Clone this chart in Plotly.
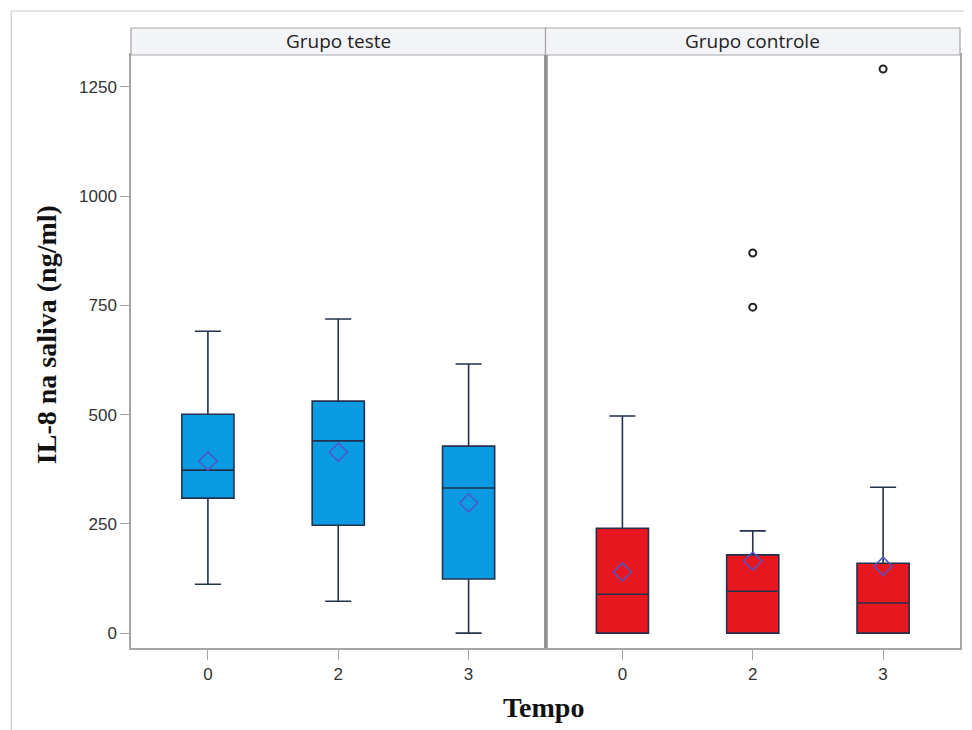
import plotly.graph_objects as go
from plotly.subplots import make_subplots

# ---- data ----
tempo_labels = ["0", "2", "3"]
groups = ["Grupo teste", "Grupo controle"]

teste_lower = [112, 73, 0]
teste_q1 = [309, 247, 124]
teste_median = [373, 440, 332]
teste_q3 = [501, 531, 428]
teste_upper = [691, 719, 616]
teste_mean = [394, 414, 298]

controle_lower = [0, 0, 0]
controle_q1 = [0, 0, 0]
controle_median = [89, 96, 69]
controle_q3 = [240, 179, 160]
controle_upper = [497, 234, 334]
controle_mean = [140, 165, 153]

controle_outlier_tempo = [1, 1, 2]       # category index of each outlier
controle_outlier_values = [870, 746, 1291]

y_ticks = [0, 250, 500, 750, 1000, 1250]
positions = [0, 1, 2]

fig = make_subplots(rows=1, cols=2, shared_yaxes=True, horizontal_spacing=0)

line_col = "#22324d"
panels = [
    (teste_lower, teste_q1, teste_median, teste_q3, teste_upper, teste_mean, "#0a9be2"),
    (controle_lower, controle_q1, controle_median, controle_q3, controle_upper, controle_mean, "#e8161f"),
]

for i, (lo, q1, med, q3, up, mn, fill) in enumerate(panels):
    col = i + 1
    fig.add_trace(go.Box(
        x=positions, q1=q1, median=med, q3=q3, lowerfence=lo, upperfence=up,
        fillcolor=fill, line=dict(color=line_col, width=1.6),
        width=0.4, whiskerwidth=0.5, boxpoints=False, showlegend=False,
        hoverinfo="skip",
    ), row=1, col=col)
    fig.add_trace(go.Scatter(
        x=positions, y=mn, mode="markers",
        marker=dict(symbol="diamond-open", size=14, color="#4f55c4",
                    line=dict(width=1.5, color="#4f55c4")),
        showlegend=False, hoverinfo="skip",
    ), row=1, col=col)

fig.add_trace(go.Scatter(
    x=controle_outlier_tempo, y=controle_outlier_values, mode="markers",
    marker=dict(symbol="circle-open", size=7, color="#222222",
                line=dict(width=2, color="#222222")),
    showlegend=False, hoverinfo="skip",
), row=1, col=2)

axis_font = dict(family="Liberation Sans, Arial, sans-serif", size=17, color="#333333")
for c in (1, 2):
    fig.update_xaxes(
        range=[-0.59, 2.59], tickvals=positions, ticktext=tempo_labels,
        showline=True, linecolor="#a6a6a6", linewidth=1.5, mirror=True,
        ticks="outside", ticklen=10, tickcolor="#a6a6a6",
        showgrid=False, zeroline=False, tickfont=axis_font,
        row=1, col=c,
    )
fig.update_yaxes(
    range=[-34, 1323], tickvals=y_ticks,
    showline=True, linecolor="#a6a6a6", linewidth=1.5, mirror=True,
    ticks="outside", ticklen=9, tickcolor="#a6a6a6",
    showgrid=False, zeroline=False, tickfont=axis_font,
    row=1, col=1,
)
fig.update_yaxes(showline=True, linecolor="#a6a6a6", linewidth=1.5, mirror=True,
                 ticks="", showgrid=False, zeroline=False, row=1, col=2)

shapes = []
# outer frame
shapes.append(dict(type="rect", xref="paper", yref="paper",
                   x0=-0.1444, x1=1.03, y0=-0.3, y1=1.0742,
                   line=dict(color="#cccccc", width=1.2), fillcolor="rgba(0,0,0,0)", layer="below"))
# header strips
for x0, x1 in [(0, 0.5), (0.5, 1.0)]:
    shapes.append(dict(type="rect", xref="paper", yref="paper",
                       x0=x0, x1=x1, y0=1.0, y1=1.0455,
                       line=dict(color="#a6a6a6", width=1.2), fillcolor="#f3f4f8"))
# panel divider
shapes.append(dict(type="line", xref="paper", yref="paper", x0=0.5, x1=0.5, y0=0, y1=1,
                   line=dict(color="#8c8c8c", width=2)))

annotations = []
for x, g in [(0.25, groups[0]), (0.75, groups[1])]:
    annotations.append(dict(text=g, xref="paper", yref="paper", x=x, y=1.0228,
                            showarrow=False, xanchor="center", yanchor="middle",
                            font=dict(family="Open Sans, Noto Sans, sans-serif", size=19, color="#222222")))
annotations.append(dict(text="<b>IL-8 na saliva (ng/ml)</b>", xref="paper", yref="paper",
                        x=-0.101, y=0.528, textangle=-90, showarrow=False,
                        xanchor="center", yanchor="middle",
                        font=dict(family="Liberation Serif, Times New Roman, serif", size=28, color="#111111")))
annotations.append(dict(text="<b>Tempo</b>", xref="paper", yref="paper",
                        x=0.4976, y=-0.0995, showarrow=False, xanchor="center", yanchor="middle",
                        font=dict(family="Liberation Serif, Times New Roman, serif", size=28, color="#111111")))

# the page body adds an 8px offset, so the figure is sized 964x722 and margins compensated
fig.update_layout(
    width=964, height=722,
    margin=dict(l=123, r=10, t=47, b=82),
    paper_bgcolor="white", plot_bgcolor="white",
    shapes=shapes, annotations=annotations,
    showlegend=False,
)

fig.write_html("out.html")
